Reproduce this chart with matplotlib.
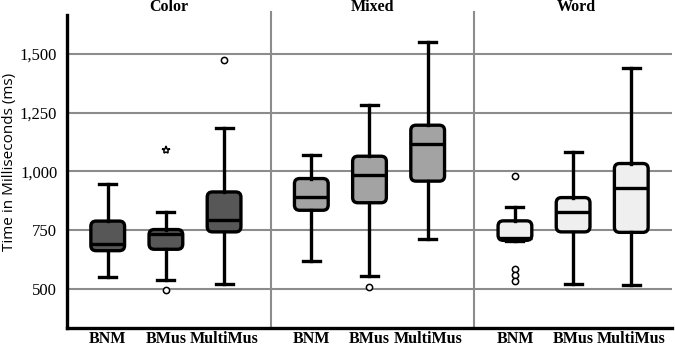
import matplotlib.pyplot as plt
from matplotlib.patches import FancyBboxPatch
from matplotlib.ticker import FuncFormatter

panels = ['Color', 'Mixed', 'Word']
groups = ['BNM', 'BMus', 'MultiMus']
panel_colors = ['#575757', '#a3a3a3', '#efefef']

# per panel, per group: whisker low, Q1, median, Q3, whisker high
whislo = [[552, 537, 520], [619, 554, 710], [702, 519, 514]]
q1 = [[662, 668, 742], [834, 866, 958], [706, 742, 740]]
med = [[690, 733, 792], [891, 983, 1118], [718, 825, 927]]
q3 = [[788, 752, 912], [969, 1064, 1196], [789, 888, 1033]]
whishi = [[947, 827, 1184], [1068, 1283, 1550], [846, 1081, 1439]]
fliers = [[[], [494], [1475]], [[], [509], []], [[980, 582, 558, 533], [], []]]
extremes = [[[], [1092], []], [[], [], []], [[], [], []]]

yticks = [500, 750, 1000, 1250, 1500]
step = 3.5
xmin, xmax = 0.3, 0.3 + 3 * step - 0.1
ymin, ymax = 333, 1665

fig = plt.figure(figsize=(6.75, 3.48), dpi=100)
ax = fig.add_axes([67 / 675, 20 / 348, 605 / 675, 313 / 348])
ax.set_xlim(xmin, xmax)
ax.set_ylim(ymin, ymax)
# data units per pixel ratio, for rounded box corners
aspect = ((ymax - ymin) / 313) / ((xmax - xmin) / 605)

for p in range(3):
    stats = []
    pos = []
    for g in range(3):
        stats.append(dict(med=med[p][g], q1=q1[p][g], q3=q3[p][g],
                          whislo=whislo[p][g], whishi=whishi[p][g],
                          fliers=fliers[p][g]))
        pos.append(1 + g + p * step)
    art = ax.bxp(stats, positions=pos, widths=0.58, patch_artist=True,
                 boxprops=dict(facecolor=panel_colors[p], edgecolor='black', linewidth=2.4),
                 medianprops=dict(color='black', linewidth=2.4),
                 whiskerprops=dict(color='black', linewidth=2.4),
                 capprops=dict(color='black', linewidth=2.4),
                 flierprops=dict(marker='o', markersize=4.5, markerfacecolor='white',
                                 markeredgecolor='black', markeredgewidth=1.1),
                 zorder=3)
    for b in art['boxes']:
        ext = b.get_path().get_extents()
        b.remove()
        ax.add_patch(FancyBboxPatch((ext.x0, ext.y0), ext.width, ext.height,
                                    boxstyle='round,pad=0,rounding_size=0.09',
                                    mutation_aspect=aspect, facecolor=panel_colors[p],
                                    edgecolor='black', linewidth=2.4, zorder=2.9))
    for g in range(3):
        if extremes[p][g]:
            ax.plot([1 + g + p * step] * len(extremes[p][g]), extremes[p][g], linestyle='none',
                    marker='*', markersize=6, markerfacecolor='white',
                    markeredgecolor='black', markeredgewidth=1.1, zorder=4)
    ax.text(2.05 + p * step, 1.024, panels[p], transform=ax.get_xaxis_transform(),
            ha='center', va='center', fontsize=11.5, fontweight='bold', family='Liberation Serif')
    if p > 0:
        ax.axvline(xmin + p * step, color='#8c8c8c', linewidth=1.5, ymax=1.01, clip_on=False, zorder=1)

for y in yticks:
    ax.axhline(y, color='#8c8c8c', linewidth=1.5, zorder=1)

ax.set_yticks(yticks)
ax.yaxis.set_major_formatter(FuncFormatter(lambda v, _: f'{int(v):,}'))
ax.set_xticks([1 + g + p * step for p in range(3) for g in range(3)])
ax.set_xticklabels(groups * 3, fontsize=11.5, fontweight='bold', family='Liberation Serif')
for lab in ax.get_yticklabels():
    lab.set_family('Liberation Serif')
    lab.set_fontsize(12)
ax.tick_params(length=0)
ax.tick_params(axis='y', pad=7)
ax.tick_params(axis='x', pad=2)
ax.set_ylabel('Time in Milliseconds (ms)', fontsize=11, family='Open Sans')
ax.yaxis.set_label_coords(-0.082, 0.53)

for s in ['top', 'right']:
    ax.spines[s].set_visible(False)
ax.spines['left'].set_linewidth(2.4)
ax.spines['bottom'].set_linewidth(2.4)

fig.savefig('out.png', dpi=100)
